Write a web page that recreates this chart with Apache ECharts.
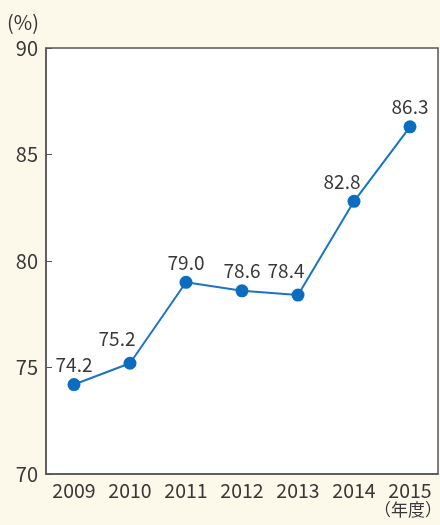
<!DOCTYPE html>
<html><head><meta charset="utf-8">
<script src="https://cdn.jsdelivr.net/npm/echarts@6/dist/echarts.min.js"></script>
<style>html,body{margin:0;padding:0;background:#fcf9ea;}#c{width:440px;height:525px;}</style>
</head><body><div id="c"></div>
<script>
const years = ['2009','2010','2011','2012','2013','2014','2015'];
const rates = [74.2, 75.2, 79.0, 78.6, 78.4, 82.8, 86.3];
const yTicks = [70, 75, 80, 85, 90];
const yUnit = '(%)';
const xUnit = '（年度）';

const FONT = '"Noto Sans CJK JP", "Noto Sans", sans-serif';
const labelShift = {1: [-13, -4], 4: [-12, -4], 5: [-12, 0]};
const chart = echarts.init(document.getElementById('c'));
chart.setOption({
  backgroundColor: '#fcf9ea',
  animation: false,
  textStyle: {fontFamily: FONT},
  grid: {left: 46, right: 2, top: 48, bottom: 51, show: true, backgroundColor: '#ffffff', borderColor: '#555', borderWidth: 1.5},
  xAxis: {
    type: 'category', data: years, boundaryGap: true,
    axisLine: {lineStyle: {color: '#555', width: 1.5}},
    axisTick: {inside: true, length: 7, interval: 0, lineStyle: {color: '#555'}},
    axisLabel: {color: '#383838', fontSize: 19.5, margin: 7, interval: 0, hideOverlap: false, fontFamily: FONT}
  },
  yAxis: {
    type: 'value', min: yTicks[0], max: yTicks[yTicks.length - 1], interval: 5,
    axisLine: {show: true, lineStyle: {color: '#555', width: 1.5}},
    axisTick: {show: true, inside: true, length: 6, lineStyle: {color: '#555'}},
    splitLine: {show: false},
    axisLabel: {color: '#383838', fontSize: 20, margin: 8, fontFamily: FONT}
  },
  graphic: [{
    type: 'text', left: 7, top: 12,
    style: {text: yUnit, fill: '#383838', font: '20px ' + FONT}
  }, {
    type: 'text', right: -2, top: 501,
    style: {text: xUnit, fill: '#383838', font: '17px ' + FONT}
  }],
  series: [{
    type: 'line', data: rates.map((v, i) => ({
      value: v,
      label: labelShift[i] ? {offset: labelShift[i]} : undefined
    })),
    symbol: 'circle', symbolSize: 13,
    lineStyle: {color: '#1a74c6', width: 2},
    itemStyle: {color: '#0b6cc0'},
    label: {show: true, position: 'top', distance: 4, color: '#383838', fontSize: 19, fontFamily: FONT,
      formatter: p => p.value.toFixed(1)}
  }]
});
</script></body></html>
